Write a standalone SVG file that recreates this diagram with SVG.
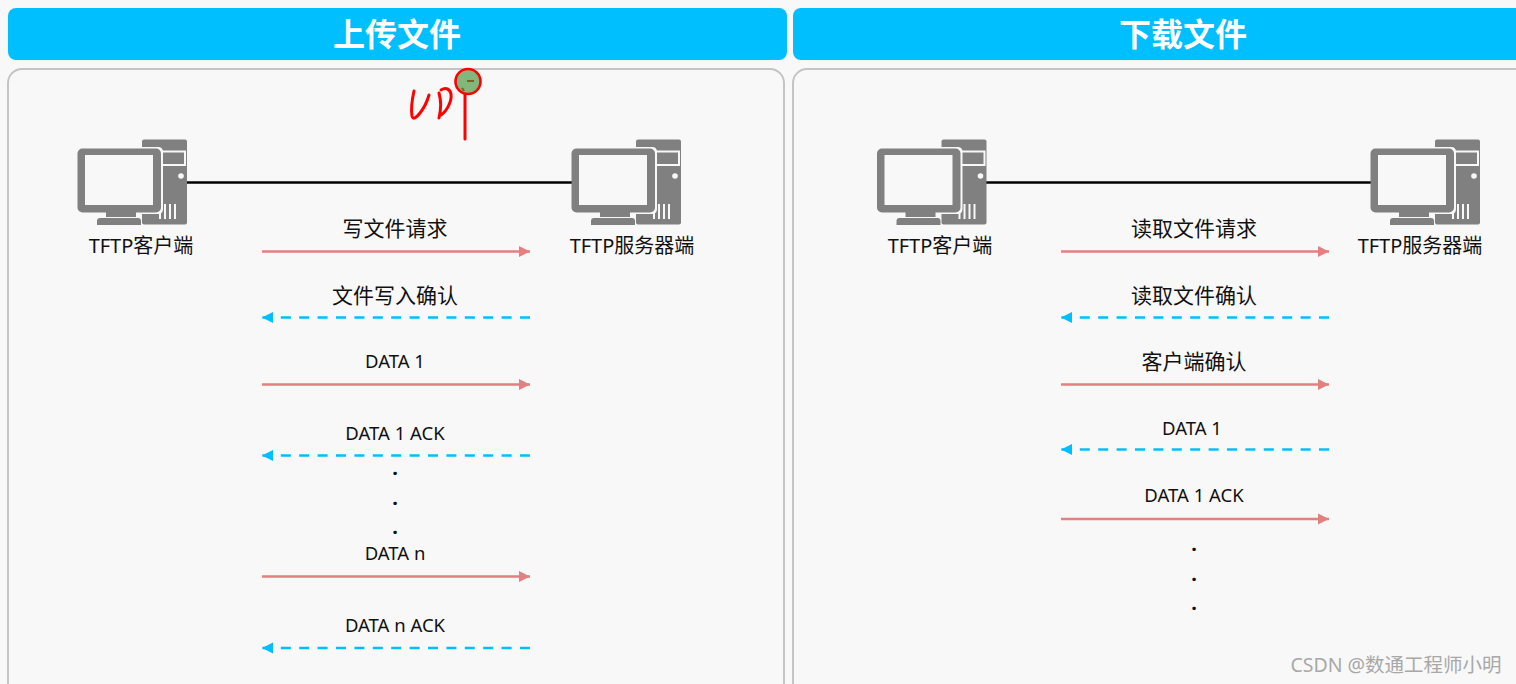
<svg xmlns="http://www.w3.org/2000/svg" width="1516" height="684" viewBox="0 0 1516 684">
<style>
text{font-family:"Noto Sans","Noto Sans CJK SC",sans-serif;fill:#111;text-anchor:middle}
.hd{fill:#00bfff}.pn{fill:#f8f8f8;stroke:#c4c4c4;stroke-width:2}
.ht{font-size:32px;font-weight:700;fill:#fff}.t{font-size:21px}.s{font-size:18.500px}.n{font-size:20px}
.d{font-size:20px;font-weight:700}
.g{fill:#808080}.w{fill:none;stroke:#f8f8f8;stroke-width:2}
.link{stroke:#000;stroke-width:2.500;fill:none}
.req{stroke:#e38080;stroke-width:2.500;fill:none;marker-end:url(#ar)}
.ack{stroke:#00bfff;stroke-width:2.500;fill:none;stroke-dasharray:10 8.400;marker-end:url(#ab)}
.ink{stroke:#f00;fill:none;stroke-width:3;stroke-linecap:round;stroke-linejoin:round}
</style>
<defs>
<marker id="ar" markerUnits="userSpaceOnUse" markerWidth="12" markerHeight="12" refX="11" refY="6" orient="auto"><path d="M0 0.500L11 6L0 11.500Z" fill="#e38080"/></marker>
<marker id="ab" markerUnits="userSpaceOnUse" markerWidth="12" markerHeight="12" refX="11" refY="6" orient="auto"><path d="M0 0.500L11 6L0 11.500Z" fill="#00bfff"/></marker>
<g id="pc">
<rect class="g" x="142" y="139.500" width="45" height="85" rx="2"/>
<path class="w" d="M162 151.500H185V165H162"/>
<circle cx="181" cy="176" r="2.800" fill="#f8f8f8"/>
<path class="w" d="M160 204V219M165 204V219M170 204V219M175 204V219" stroke-width="1.500"/>
<path d="M82 147H158Q163 147 163 152V209Q163 214 158 214H82Z" fill="#f8f8f8"/>
<rect class="g" x="77.500" y="148.500" width="83.500" height="64" rx="5"/>
<rect x="85" y="155" width="68" height="50" fill="#f8f8f8"/>
<rect class="g" x="106" y="212" width="30" height="5"/>
<path class="g" d="M100 218H138Q141 218 141 221V225H97V221Q97 218 100 218Z"/>
</g>
</defs>
<rect width="1516" height="684" fill="#f8f8f8"/>

<g id="panel-upload">
<rect class="hd" x="8" y="8" width="779" height="52" rx="8"/>
<text class="ht" x="397" y="46">上传文件</text>
<rect class="pn" x="8" y="69" width="776" height="640" rx="14"/>
</g>
<g id="panel-download">
<rect class="hd" x="793" y="8" width="760" height="52" rx="8"/>
<text class="ht" x="1183" y="46">下载文件</text>
<rect class="pn" x="793" y="69" width="760" height="640" rx="14"/>
</g>

<g id="connectors">
<path class="link" d="M187 182.500H572"/>
<path class="link" d="M986 182.500H1371"/>
<path class="req" d="M262 251.500H530"/>
<path class="ack" d="M530 317.500H262"/>
<path class="req" d="M262 384.500H530"/>
<path class="ack" d="M530 455.500H262"/>
<path class="req" d="M262 576.500H530"/>
<path class="ack" d="M530 648H262"/>
<path class="req" d="M1061 251.500H1329"/>
<path class="ack" d="M1329 317.500H1061"/>
<path class="req" d="M1061 384.500H1329"/>
<path class="ack" d="M1329 449.500H1061"/>
<path class="req" d="M1061 519H1329"/>
</g>

<g id="client-a"><use href="#pc"/><text class="n" x="141" y="252.500">TFTP客户端</text></g>
<g id="server-a"><use href="#pc" x="494"/><text class="n" x="632" y="252.500">TFTP服务器端</text></g>
<g id="client-b"><use href="#pc" x="799.500"/><text class="n" x="940" y="252.500">TFTP客户端</text></g>
<g id="server-b"><use href="#pc" x="1293"/><text class="n" x="1420" y="252.500">TFTP服务器端</text></g>

<g id="labels-upload">
<text class="t" x="395" y="235.500">写文件请求</text>
<text class="t" x="395" y="302.500">文件写入确认</text>
<text class="s" x="395" y="368">DATA 1</text>
<text class="s" x="395" y="440">DATA 1 ACK</text>
<text class="d" x="395" y="475">.</text>
<text class="d" x="395" y="505">.</text>
<text class="d" x="395" y="534">.</text>
<text class="s" x="395" y="560">DATA n</text>
<text class="s" x="395" y="632">DATA n ACK</text>
</g>
<g id="labels-download">
<text class="t" x="1194" y="235.500">读取文件请求</text>
<text class="t" x="1194" y="302.500">读取文件确认</text>
<text class="t" x="1194" y="368.500">客户端确认</text>
<text class="s" x="1192" y="435">DATA 1</text>
<text class="s" x="1194" y="502">DATA 1 ACK</text>
<text class="d" x="1194" y="551">.</text>
<text class="d" x="1194" y="581">.</text>
<text class="d" x="1194" y="610">.</text>
</g>

<g id="annotation">
<path class="ink" d="M414 91C412 100 411 110 412 116C413 120 416 118 420 113C424 108 427 102 429 95"/>
<path class="ink" d="M439 93C441 100 441 110 439 118M441 90C446 87 450 89 451 94C452 101 447 111 441 115"/>
<path class="ink" d="M465 90V139"/>
<circle cx="468" cy="81.500" r="12.500" fill="#7fb87a" stroke="#f00" stroke-width="2.600"/>
<path d="M467 81H474M462 88L464 91" stroke="#8a5a20" stroke-width="2.200" fill="none"/>
</g>

<text id="watermark" x="1396" y="672" font-size="19.500" style="fill:#a8a8a8">CSDN @数通工程师小明</text>
</svg>
